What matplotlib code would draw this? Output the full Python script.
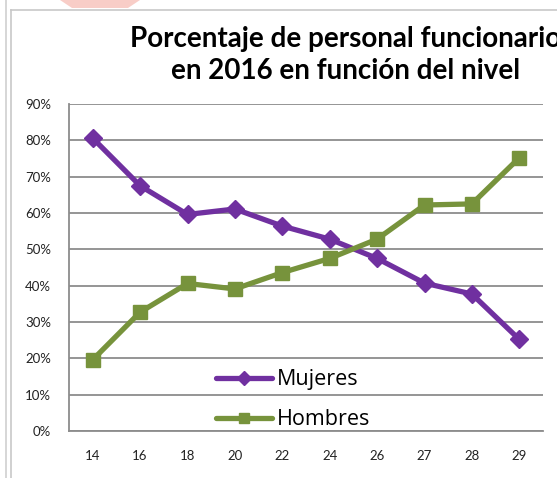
import numpy as np
import matplotlib.pyplot as plt
from matplotlib.patches import Polygon

# datos
niveles = ['14', '16', '18', '20', '22', '24', '26', '27', '28', '29']
mujeres = [80.6, 67.5, 59.6, 61.1, 56.4, 52.8, 47.5, 40.7, 37.7, 25.2]
hombres = [19.6, 32.7, 40.6, 39.1, 43.6, 47.5, 52.8, 62.2, 62.5, 75.2]
yticks = [0, 10, 20, 30, 40, 50, 60, 70, 80, 90]

W, H = 557, 478
fig = plt.figure(figsize=(W / 100, H / 100), dpi=100)
fig.patch.set_facecolor('white')

# marco del grafico (recortado) y fondo
fig.add_artist(plt.Line2D([6 / W, 6 / W], [0, 1], color='#d0d0d0', lw=1.2))
fig.add_artist(plt.Line2D([11 / W, 11 / W], [0, 1 - 10 / H], color='#c8c8c8', lw=1.2))
fig.add_artist(plt.Line2D([11 / W, 1], [1 - 10 / H, 1 - 10 / H], color='#c8c8c8', lw=1.2))
fig.add_artist(Polygon([[60 / W, 1], [140 / W, 1], [128 / W, 1 - 8 / H], [72 / W, 1 - 8 / H]],
                       closed=True, facecolor='#f6b8b0', edgecolor='none', alpha=0.7))

ax = fig.add_axes([69 / W, 1 - 431 / H, (543 - 69) / W, (431 - 104) / H])
x = np.arange(len(niveles))

ax.plot(x, mujeres, color='#7030A0', lw=3.8, marker='D', ms=9.5,
        label='Mujeres', solid_capstyle='round', zorder=3)
ax.plot(x, hombres, color='#77933C', lw=3.8, marker='s', ms=10.5,
        label='Hombres', solid_capstyle='round', zorder=3)

ax.set_xlim(-0.5, len(niveles) - 0.5)
ax.set_ylim(0, 90)
ax.set_yticks(yticks)
ax.set_yticklabels([f'{v}%' for v in yticks], fontsize=9.5, family='Lato', color='#222222')
ax.set_xticks(x)
ax.set_xticklabels(niveles, fontsize=9.5, family='Lato', color='#222222')
ax.tick_params(length=0, pad=13)
ax.tick_params(axis='x', pad=14)
ax.grid(axis='y', color='#8c8c8c', lw=1.3)
ax.set_axisbelow(True)
for s in ['top', 'right']:
    ax.spines[s].set_visible(False)
for s in ['left', 'bottom']:
    ax.spines[s].set_color('#8c8c8c')
    ax.spines[s].set_linewidth(1.3)

leg = ax.legend(loc='upper left', bbox_to_anchor=(0.288, 0.222), frameon=False,
                prop={'family': 'Open Sans', 'size': 15.5}, handlelength=2.6, markerscale=0.75,
                labelspacing=0.88, handletextpad=0.2, borderpad=0)

fig.text(346 / W, 1 - 55 / H, 'Porcentaje de personal funcionario\nen 2016 en función del nivel',
         ha='center', va='center', fontsize=20, fontweight='bold', family='Lato',
         linespacing=1.3)

fig.savefig('out.png', dpi=100)
